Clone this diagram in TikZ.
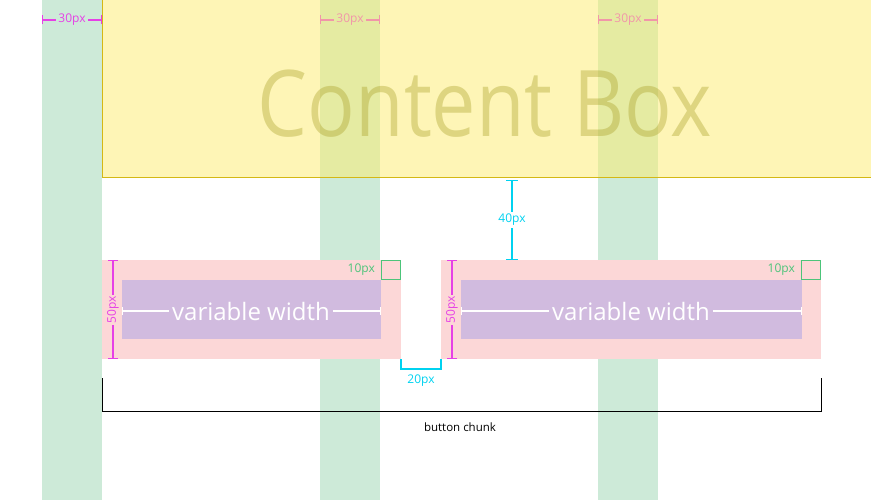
\documentclass[tikz,border=0pt]{standalone}
\usepackage{fontspec}
\setmainfont{Open Sans}
\usetikzlibrary{arrows.meta,calc}
\definecolor{colgreen}{RGB}{205,234,216}
\definecolor{boxyellow}{RGB}{253,236,110}
\definecolor{ydark}{RGB}{212,184,20}
\definecolor{olive}{RGB}{170,160,40}
\definecolor{pinkbg}{RGB}{252,215,215}
\definecolor{purplebg}{RGB}{209,187,223}
\definecolor{magentac}{RGB}{230,64,230}
\definecolor{cyanc}{RGB}{0,210,240}
\definecolor{greenc}{RGB}{76,196,122}
\tikzset{
  col/.style={fill=colgreen},
  dimmag/.style={draw=magentac, line width=1.3pt, {Bar[width=10pt]}-{Bar[width=10pt]}},
  dimcyan/.style={draw=cyanc, line width=1.3pt, {Bar[width=12pt]}-{Bar[width=12pt]}},
  dimwhite/.style={draw=white, line width=1.3pt, {Bar[width=8pt]}-{Bar[width=8pt]}},
  lbl/.style={font=\fontsize{12}{14}\selectfont, inner sep=2pt},
  pinkbox/.style={fill=pinkbg},
  purplebox/.style={fill=purplebg},
  sq/.style={draw=greenc, line width=1.2pt},
}
\begin{document}
\begin{tikzpicture}[x=1pt,y=-1pt]
\useasboundingbox (0,0) rectangle (871,500);
% grid columns
\fill[col] (42,0) rectangle (102,500);
\fill[col] (320,0) rectangle (380,500);
\fill[col] (598,0) rectangle (658,500);
% 30px gutters
\foreach \a/\n in {42/g1,320/g2,598/g3}{
  \coordinate (\n a) at (\a,20);
  \coordinate (\n b) at (\a+60,20);
  \draw[dimmag, {Bar[width=9pt]}-{Bar[width=9pt]}] (\n a) -- (\n b);
  \node[lbl, fill=colgreen, text=magentac] (\n t) at ($(\n a)!0.5!(\n b)$) {30px};
}
% content box
\fill[boxyellow, opacity=0.5] (102,0) rectangle (871,178);
\coordinate (cbtl) at (102,0);
\coordinate (cbbl) at (102,178);
\coordinate (cbbr) at (871,178);
\draw[ydark, line width=1pt] (cbtl) -- (cbbl) -- (cbbr);
\node[text=olive, text opacity=0.38, font=\fontsize{92}{100}\selectfont, inner sep=0pt, anchor=base, xscale=0.86] (content) at (485,137) {Content Box};
% buttons
\fill[pinkbox] (102,260) rectangle (401,359);
\fill[pinkbox] (441,260) rectangle (821,359);
\fill[purplebox] (122,280) rectangle (381,339);
\fill[purplebox] (461,280) rectangle (802,339);
\node[sq, minimum width=19pt, minimum height=19pt, inner sep=0pt] (sq1) at (391,270) {};
\node[sq, minimum width=19pt, minimum height=19pt, inner sep=0pt] (sq2) at (811,270) {};
\node[lbl, text=greenc, anchor=east] (t10a) at (377,270) {10px};
\node[lbl, text=greenc, anchor=east] (t10b) at (797,270) {10px};
% variable width
\coordinate (v1a) at (122,311); \coordinate (v1b) at (381,311);
\coordinate (v2a) at (461,311); \coordinate (v2b) at (802,311);
\draw[dimwhite] (v1a) -- (v1b);
\draw[dimwhite] (v2a) -- (v2b);
\node[fill=purplebg, text=white, font=\fontsize{24}{28}\selectfont, inner sep=3pt] (vw1) at (251,311) {variable width};
\node[fill=purplebg, text=white, font=\fontsize{24}{28}\selectfont, inner sep=3pt] (vw2) at (631,311) {variable width};
% 50px heights
\coordinate (h1a) at (113,260); \coordinate (h1b) at (113,359);
\coordinate (h2a) at (452,260); \coordinate (h2b) at (452,359);
\draw[dimmag] (h1a) -- (h1b);
\draw[dimmag] (h2a) -- (h2b);
\node[lbl, fill=pinkbg, text=magentac, rotate=90, inner sep=1pt] (h1t) at (113,310) {50px};
\node[lbl, fill=pinkbg, text=magentac, rotate=90, inner sep=1pt] (h2t) at (452,310) {50px};
% 40px
\coordinate (f1) at (512,180); \coordinate (f2) at (512,260);
\draw[dimcyan] (f1) -- (f2);
\node[lbl, fill=white, text=cyanc] (t40) at (512,220) {40px};
% 20px
\coordinate (w1) at (401,359); \coordinate (w2) at (441,359);
\draw[cyanc, line width=1.2pt] (w1) -- ++(0,10) -| (w2);
\node[lbl, text=cyanc] (t20) at (421,381) {20px};
% button chunk
\coordinate (bc1) at (102,378); \coordinate (bc2) at (821,378);
\draw[black, line width=1pt] (bc1) -- ++(0,33) -| (bc2);
\node[font=\fontsize{11.5}{13}\selectfont, text=black] (tbc) at (460,427) {button chunk};
\end{tikzpicture}
\end{document}
